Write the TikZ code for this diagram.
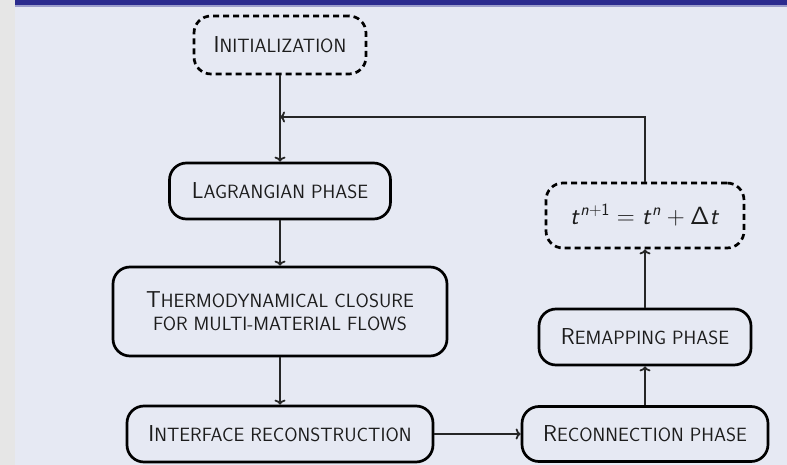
\documentclass[tikz,border=0pt]{standalone}
\usetikzlibrary{arrows.meta}
\DeclareMathAlphabet{\mathsfit}{OT1}{cmss}{m}{sl}
\definecolor{slidebg}{HTML}{E6E9F3}
\definecolor{stripbg}{HTML}{E6E6E6}
\definecolor{barblue}{HTML}{2B2B8E}
\definecolor{ink}{HTML}{1C1C1C}
\newcommand{\bigc}[1]{{\fontsize{23}{23}\selectfont #1}}
\newcommand{\smc}[1]{{\fontsize{19.2}{23}\selectfont #1}}
\tikzset{
  box/.style={draw=black, line width=2.7pt, rounded corners=17pt, text=ink,
    font=\sffamily\fontsize{19.2}{23}\selectfont, inner sep=0pt, align=center},
  dbox/.style={box, dash pattern=on 6pt off 4pt},
  arr/.style={draw=black!85, line width=1.8pt, -{To[length=5pt,width=11pt]}}
}
\begin{document}
\begin{tikzpicture}[x=1pt,y=-1pt]
\useasboundingbox (0,0) rectangle (787,465);
\fill[slidebg] (0,0) rectangle (787,465);
\fill[stripbg] (0,0) rectangle (15,465);
\fill[barblue] (15,0) rectangle (787,5);
\fill[barblue!40!slidebg] (15,5) rectangle (787,7);

\node[dbox, minimum width=172pt, minimum height=58pt] (init) at (280,45)
  {\bigc{I}\smc{NITIALIZATION}};
\node[box, minimum width=221pt, minimum height=56pt] (lag) at (280,191)
  {\bigc{L}\smc{AGRANGIAN PHASE}};
\node[box, minimum width=334pt, minimum height=89pt] (thermo) at (280,311.5)
  {\bigc{T}\smc{HERMODYNAMICAL CLOSURE}\\\smc{FOR MULTI-MATERIAL FLOWS}};
\node[box, minimum width=306pt, minimum height=56pt] (iface) at (280,434)
  {\bigc{I}\smc{NTERFACE RECONSTRUCTION}};
\node[box, minimum width=246pt, minimum height=55pt] (recon) at (645,434)
  {\bigc{R}\smc{ECONNECTION PHASE}};
\node[box, minimum width=212pt, minimum height=56pt] (remap) at (645,337)
  {\bigc{R}\smc{EMAPPING PHASE}};
\node[dbox, minimum width=198pt, minimum height=65pt, font=\fontsize{25.5}{30}\selectfont] (tbox) at (645,215.5)
  {$\mathsfit{t}^{\mathsfit{n}+\mathsf{1}} = \mathsfit{t}^{\mathsfit{n}} + \mathsf{\Delta}\mathsfit{t}$};

\coordinate (join) at (280,117);

\draw[arr] (init.south) -- (lag.north);
\draw[arr] (lag.south) -- (thermo.north);
\draw[arr] (thermo.south) -- (iface.north);
\draw[arr] (iface.east) -- (recon.west);
\draw[arr] (recon.north) -- (remap.south);
\draw[arr] (remap.north) -- (tbox.south);
\draw[arr] (tbox.north) |- (join);
\end{tikzpicture}
\end{document}
